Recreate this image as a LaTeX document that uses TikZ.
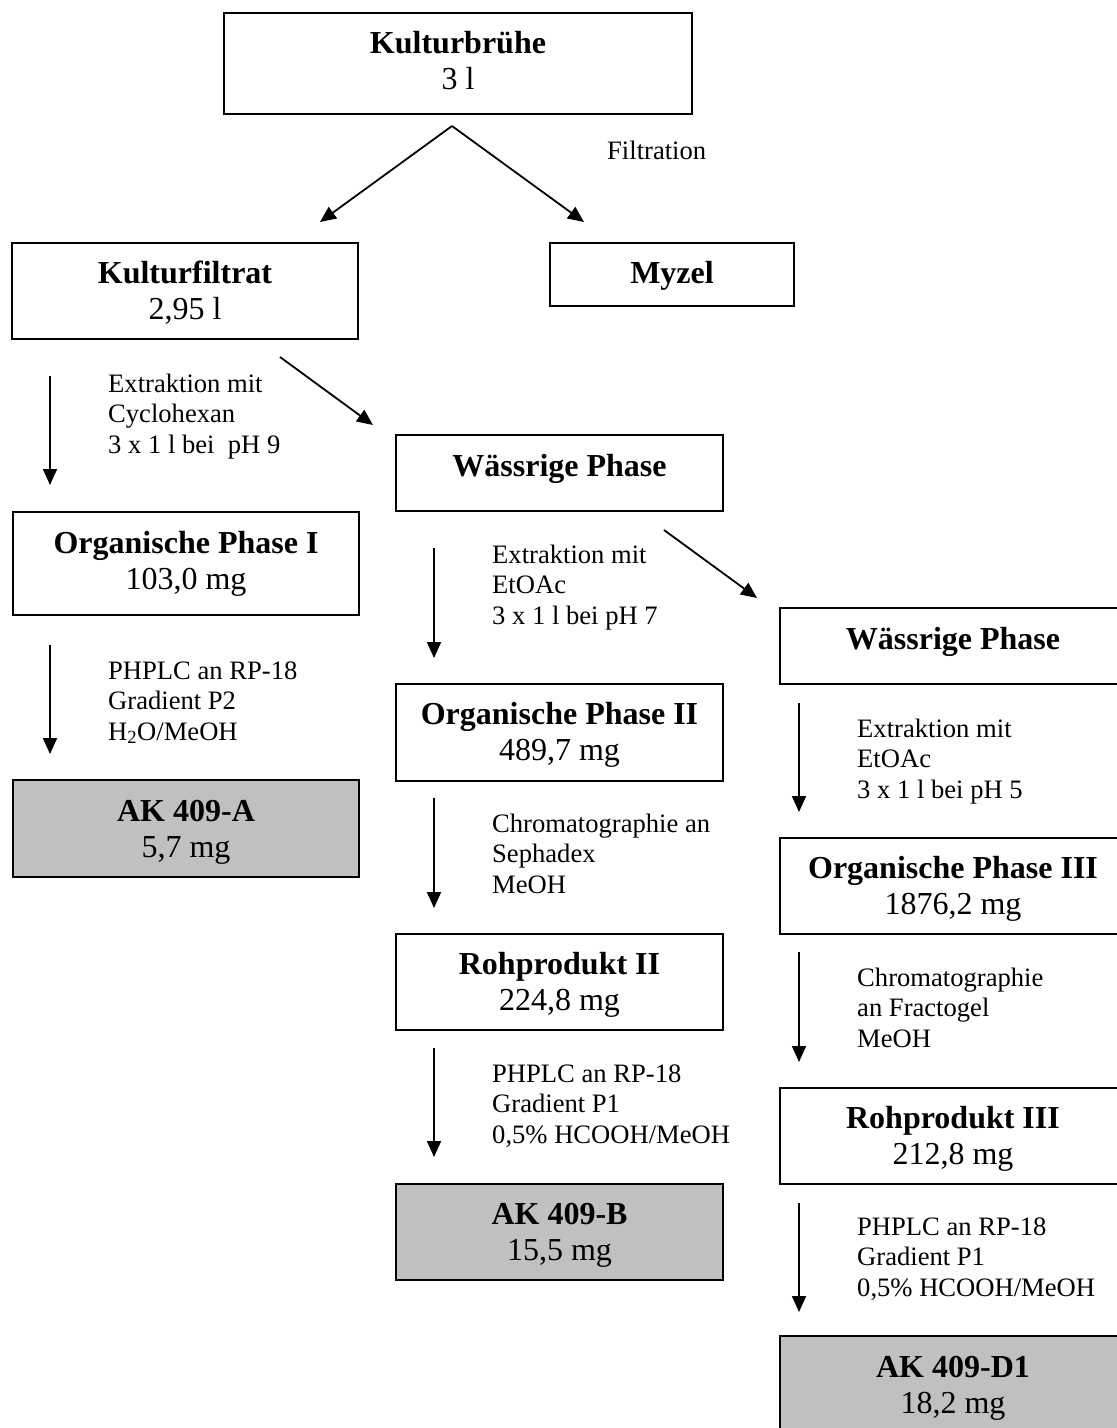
\documentclass[tikz,border=0pt]{standalone}
\usepackage{fontspec}
\setmainfont{Liberation Serif}
\usetikzlibrary{arrows.meta}
\definecolor{boxgray}{HTML}{C0C0C0}
\newcommand{\fbx}[8]{%
  \pgfmathsetmacro\bw{#4-#2}\pgfmathsetmacro\bh{#6-#3}\pgfmathsetmacro\bd{#5-#6}%
  \node[#7, minimum width=\bw pt, text height=\bh pt, text depth=\bd pt] (#1) at (#2,#3) {#8};}
\newcommand{\two}[2]{\begin{tabular}[t]{@{}c@{}}\textbf{#1}\\#2\end{tabular}}
\newcommand{\three}[3]{\begin{tabular}[t]{@{}l@{}}#1\\#2\\#3\end{tabular}}
\begin{document}
\begin{tikzpicture}[x=1pt,y=-1pt,
  flowbox/.style={draw, line width=2pt, inner sep=0pt, anchor=north west, fill=white,
    font=\fontsize{32}{36.5}\selectfont},
  resultbox/.style={flowbox, fill=boxgray},
  lab/.style={inner sep=0pt, anchor=base west, font=\fontsize{26.6}{30.5}\selectfont},
  arr/.style={line width=1.8pt, -{Triangle[length=16pt,width=14pt]}}]
\useasboundingbox (0,0) rectangle (1117,1428);
% boxes
\fbx{brue}{223}{12}{691}{113}{52}{flowbox}{\two{Kulturbrühe}{3 l}}
\fbx{filtrat}{11}{242}{357}{338}{282}{flowbox}{\two{Kulturfiltrat}{2,95 l}}
\fbx{myzel}{549}{242}{793}{305}{282}{flowbox}{\textbf{Myzel}}
\fbx{wa}{395}{434}{722}{510}{475}{flowbox}{\textbf{Wässrige Phase}}
\fbx{oa}{12}{511}{358}{614}{552}{flowbox}{\two{Organische Phase I}{103,0 mg}}
\fbx{ka}{12}{779}{358}{876}{820}{resultbox}{\two{AK 409-A}{5,7 mg}}
\fbx{wb}{779}{607}{1125}{683}{648}{flowbox}{\textbf{Wässrige Phase}}
\fbx{ob}{395}{683}{722}{780}{723}{flowbox}{\two{Organische Phase II}{489,7 mg}}
\fbx{rb}{395}{933}{722}{1029}{973}{flowbox}{\two{Rohprodukt II}{224,8 mg}}
\fbx{kb}{395}{1183}{722}{1279}{1223}{resultbox}{\two{AK 409-B}{15,5 mg}}
\fbx{oc}{779}{837}{1125}{933}{877}{flowbox}{\two{Organische Phase III}{1876,2 mg}}
\fbx{rc}{779}{1087}{1125}{1183}{1127}{flowbox}{\two{Rohprodukt III}{212,8 mg}}
\fbx{kd}{779}{1335}{1125}{1440}{1376}{resultbox}{\two{AK 409-D1}{18,2 mg}}
% arrow end points
\coordinate (f0) at (452,126);
\coordinate (f1) at (320,222);
\coordinate (f2) at (584,222);
\coordinate (a0) at (50,376);  \coordinate (a1) at (50,485);
\coordinate (d0) at (280,357); \coordinate (d1) at (373,425);
\coordinate (b0) at (50,645);  \coordinate (b1) at (50,754);
\coordinate (c0) at (434,548); \coordinate (c1) at (434,658);
\coordinate (e0) at (664,530); \coordinate (e1) at (757,598);
\coordinate (g0) at (434,798); \coordinate (g1) at (434,908);
\coordinate (h0) at (434,1048); \coordinate (h1) at (434,1157);
\coordinate (i0) at (799,703); \coordinate (i1) at (799,812);
\coordinate (j0) at (799,952); \coordinate (j1) at (799,1062);
\coordinate (k0) at (799,1203); \coordinate (k1) at (799,1312);
% arrows
\draw[arr] (f0) -- (f1);
\draw[arr] (f0) -- (f2);
\draw[arr] (a0) -- (a1);
\draw[arr] (d0) -- (d1);
\draw[arr] (b0) -- (b1);
\draw[arr] (c0) -- (c1);
\draw[arr] (e0) -- (e1);
\draw[arr] (g0) -- (g1);
\draw[arr] (h0) -- (h1);
\draw[arr] (i0) -- (i1);
\draw[arr] (j0) -- (j1);
\draw[arr] (k0) -- (k1);
% labels
\node[lab] (lf) at (607,159) {Filtration};
\node[lab] (la) at (108,392) {\three{Extraktion mit}{Cyclohexan}{3 x 1 l bei\ \ pH 9}};
\node[lab] (lb) at (108,679) {\three{PHPLC an RP-18}{Gradient P2}{H\textsubscript{2}O/MeOH}};
\node[lab] (lc) at (492,563) {\three{Extraktion mit}{EtOAc}{3 x 1 l bei pH 7}};
\node[lab] (lg) at (492,832) {\three{Chromatographie an}{Sephadex}{MeOH}};
\node[lab] (lh) at (492,1082) {\three{PHPLC an RP-18}{Gradient P1}{0,5\% HCOOH/MeOH}};
\node[lab] (li) at (857,737) {\three{Extraktion mit}{EtOAc}{3 x 1 l bei pH 5}};
\node[lab] (lj) at (857,986) {\three{Chromatographie}{an Fractogel}{MeOH}};
\node[lab] (lk) at (857,1235) {\three{PHPLC an RP-18}{Gradient P1}{0,5\% HCOOH/MeOH}};
\end{tikzpicture}
\end{document}
